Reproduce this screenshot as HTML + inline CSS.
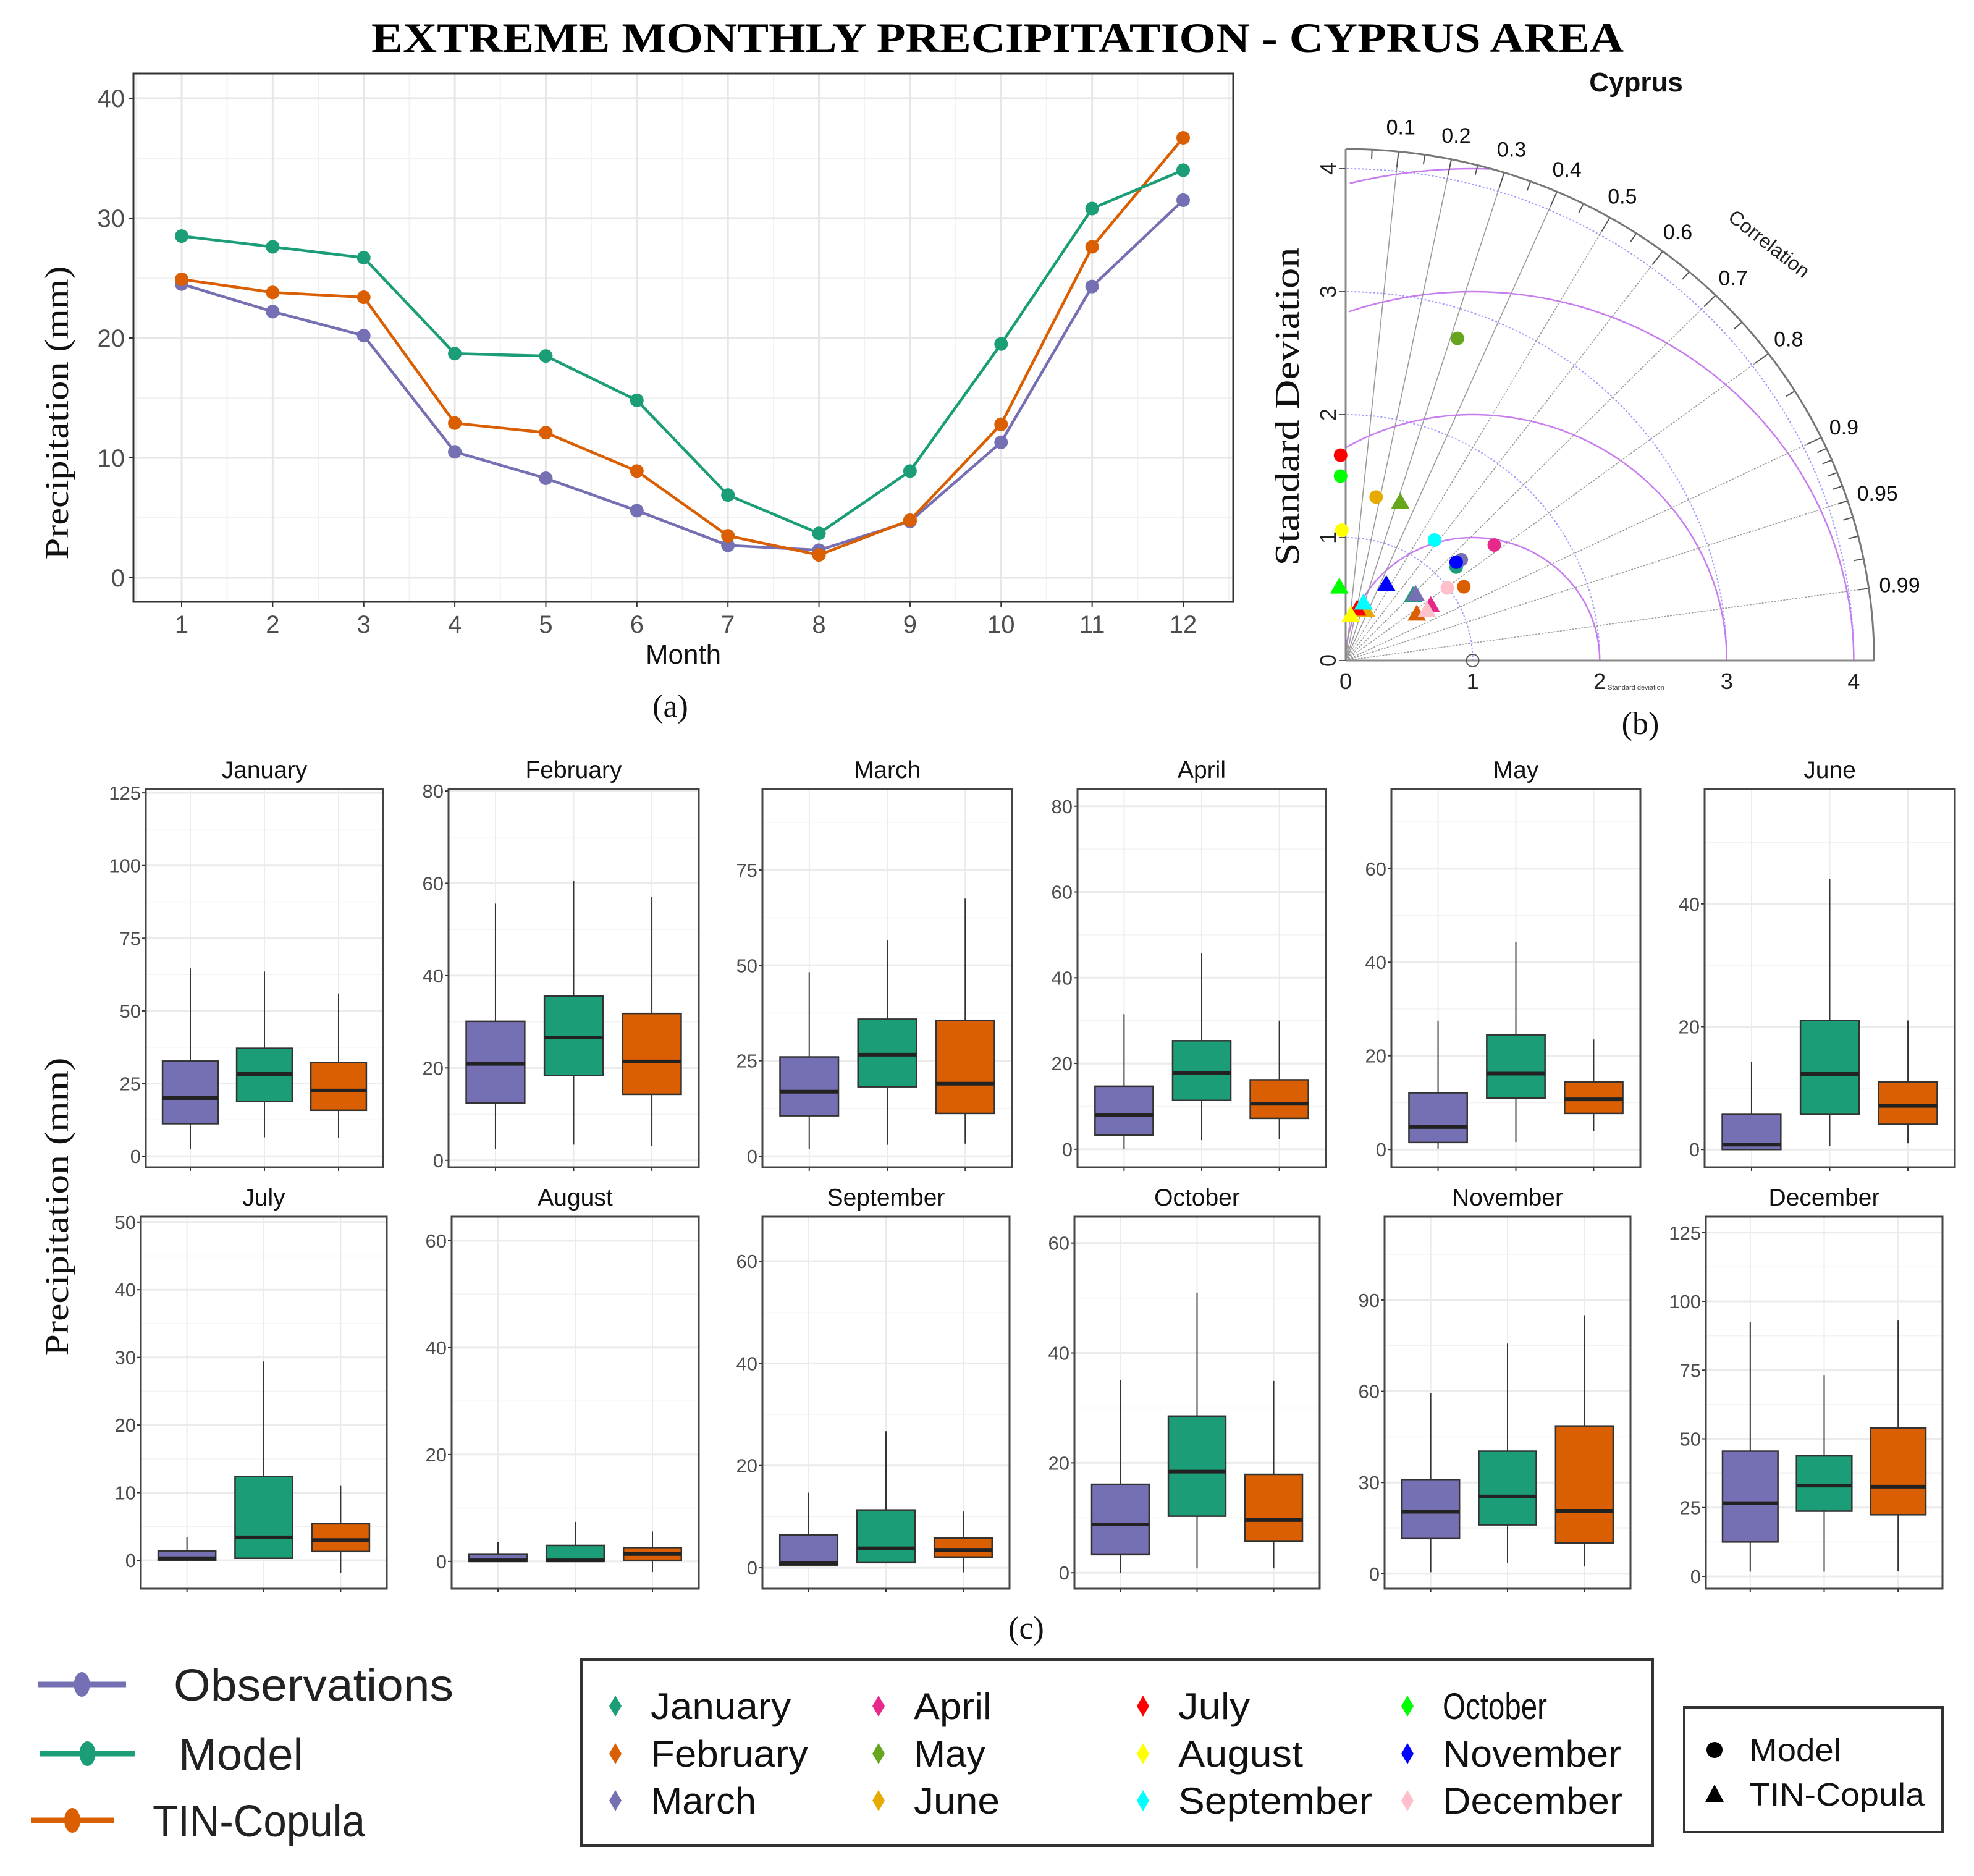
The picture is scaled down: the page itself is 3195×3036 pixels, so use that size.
<!DOCTYPE html>
<html><head><meta charset="utf-8"><title>Extreme Monthly Precipitation - Cyprus Area</title>
<style>
html,body{margin:0;padding:0;background:#fff;}
svg{display:block;}
text{font-family:"Liberation Sans",sans-serif;}
.serif{font-family:"Liberation Serif",serif;}
</style></head>
<body>
<svg id="fig" xmlns="http://www.w3.org/2000/svg" width="3195" height="3036" viewBox="0 0 3195 3036">
<rect x="0" y="0" width="3195" height="3036" fill="#fff"/>
<text class="serif" x="601" y="84" font-size="68" font-weight="bold" textLength="2027" lengthAdjust="spacingAndGlyphs">EXTREME MONTHLY PRECIPITATION - CYPRUS AREA</text>
<g id="pa"></g>
<g id="pb"></g>
<g id="pc"></g>
<g id="leg"></g>
</svg>
<script>
// ---------- Panel (a) data ----------
const months = [1,2,3,4,5,6,7,8,9,10,11,12];
const obsLine = [24.5,22.2,20.2,10.5,8.3,5.6,2.7,2.3,4.7,11.3,24.3,31.5];
const modelLine = [28.5,27.6,26.7,18.7,18.5,14.8,6.9,3.7,8.9,19.5,30.8,34.0];
const tinLine = [24.9,23.8,23.4,12.9,12.1,8.9,3.5,1.9,4.8,12.8,27.6,36.7];
const aYTicks = [0,10,20,30,40];

// ---------- Panel (b) Taylor data: [x-sd, y-sd] ----------
const monthNames = ["January","February","March","April","May","June","July","August","September","October","November","December"];
const monthColors = ["#1B9E77","#D95F02","#7570B3","#E7298A","#66A61E","#E6AB02","#FF0000","#FFFF00","#00FFFF","#00FF00","#0000FF","#FFC0CB"];
const taylorModel = [[0.87,0.76],[0.93,0.60],[0.91,0.82],[1.17,0.94],[0.88,2.62],[0.24,1.33],[-0.04,1.67],[-0.03,1.06],[0.70,0.98],[-0.04,1.50],[0.87,0.80],[0.80,0.59]];
const taylorTin = [[0.53,0.53],[0.56,0.38],[0.55,0.54],[0.67,0.45],[0.43,1.29],[0.16,0.41],[0.09,0.42],[0.04,0.37],[0.14,0.47],[-0.05,0.60],[0.32,0.62],[0.64,0.41]];
const corrLabels = [0.1,0.2,0.3,0.4,0.5,0.6,0.7,0.8,0.9,0.95,0.99];
const sdTicks = [0,1,2,3,4];

// ---------- Panel (c) box data: [lowWhisker, q1, median, q3, highWhisker] ----------
const boxObs = [[2.4,11.2,20,32.7,64.6],[2.5,12.4,20.9,30.1,55.6],[1.9,10.6,16.9,26,48.2],[0.1,3.3,7.9,14.7,31.5],[0.2,1.5,4.8,12.1,27.5],[0,0,0.8,5.7,14.3],[0,0,0.3,1.4,3.4],[0,0,0.2,1.3,3.6],[0.4,0.4,0.9,6.4,14.7],[0,3.3,8.8,16.1,35.1],[0.5,11.6,20.4,31,59.5],[1.7,12.5,26.6,45.5,92.6]];
const boxModel = [[6.5,18.8,28.3,37.1,63.5],[3.4,18.4,26.6,35.6,60.5],[3,18.2,26.6,35.9,56.5],[2.1,11.4,17.7,25.3,45.8],[1.6,11,16.2,24.5,44.4],[0.6,5.7,12.3,21,44],[0.3,0.3,3.4,12.4,29.4],[0,0,0.2,3,7.4],[1,1,3.8,11.3,26.7],[0.8,10.3,18.4,28.5,51],[3.5,16.1,25.4,40.3,75.7],[1.7,23.7,33,43.8,73]];
const boxTin = [[6.2,15.8,22.6,32.2,56],[3.1,14.3,21.4,31.8,57.1],[3.3,11.2,19,35.6,67.5],[2.4,7.2,10.6,16.2,30],[3.9,7.7,10.7,14.4,23.5],[1,4.1,7.1,11,21],[-1.9,1.3,3,5.4,11],[-2,0.2,1.4,2.6,5.6],[-0.9,2.1,3.5,5.8,11],[0.8,5.7,9.6,17.9,34.9],[2.4,10.1,20.7,48.6,85],[2,22.4,32.6,53.9,93]];
const boxTicks = [[0,25,50,75,100,125],[0,20,40,60,80],[0,25,50,75],[0,20,40,60,80],[0,20,40,60],[0,20,40],[0,10,20,30,40,50],[0,20,40,60],[0,20,40,60],[0,20,40,60],[0,30,60,90],[0,25,50,75,100,125]];
const boxYMin = [-3.8,-1.5,-2.9,-4.2,-3.8,-2.9,-4.2,-5.1,-4.1,-2.9,-4.9,-4.5];
const boxYMax = [126.3,80.4,96.2,84.0,77.0,58.7,50.8,64.5,68.7,64.8,117.4,130.8];

const NS = "http://www.w3.org/2000/svg";
function mk(tag, attrs, parent, txt){
  const e = document.createElementNS(NS, tag);
  for (const k in attrs) e.setAttribute(k, attrs[k]);
  if (txt !== undefined) e.textContent = txt;
  parent.appendChild(e);
  return e;
}
const COL = {obs:"#7570B3", model:"#1B9E77", tin:"#D95F02"};

// ================= Panel (a) =================
(function(){
  const g = document.getElementById('pa');
  const L=216,R=1996,T=119,B=974;
  const xS = m => 294 + (m-1)*(1915-294)/11;
  const yS = v => 935 - v*19.4;
  let r = mk('rect',{x:L,y:T,width:R-L,height:B-T,fill:'#fff'},g);
  
  
  for (let v=5; v<42; v+=10){ let l=mk('line',{x1:L,x2:R,y1:yS(v),y2:yS(v),stroke:'#f2f2f2','stroke-width':2},g);
    
     }
  for (let m=0.5; m<=12.5; m+=1){ let l=mk('line',{x1:xS(m),x2:xS(m),y1:T,y2:B,stroke:'#f2f2f2','stroke-width':2},g);
    
     }
  aYTicks.forEach(v=>{ let l=mk('line',{x1:L,x2:R,y1:yS(v),y2:yS(v),stroke:'#e6e6e6','stroke-width':3},g);
    
    
    let tk=mk('line',{x1:L-8,x2:L,y1:yS(v),y2:yS(v),stroke:'#333','stroke-width':2},g);
    
    
    let t=mk('text',{x:L-14,y:yS(v)+14,'text-anchor':'end','font-size':40,fill:'#4d4d4d'},g,String(v));
    
     });
  months.forEach(m=>{ let l=mk('line',{x1:xS(m),x2:xS(m),y1:T,y2:B,stroke:'#e6e6e6','stroke-width':3},g);
    
    
    let tk=mk('line',{x1:xS(m),x2:xS(m),y1:B,y2:B+8,stroke:'#333','stroke-width':2},g);
    
    
    let t=mk('text',{x:xS(m),y:B+50,'text-anchor':'middle','font-size':40,fill:'#4d4d4d'},g,String(m));
    
     });
  let bd = mk('rect',{x:L,y:T,width:R-L,height:B-T,fill:'none',stroke:'#333','stroke-width':3},g);
  
  
  [[obsLine,COL.obs,'observations'],[tinLine,COL.tin,'tin-copula'],[modelLine,COL.model,'model']].forEach(([arr,c,nm])=>{
    const pts = arr.map((v,i)=>xS(months[i])+','+yS(v)).join(' ');
    let pl = mk('polyline',{points:pts,fill:'none',stroke:c,'stroke-width':4.5},g);
    
    
    arr.forEach((v,i)=>{ let p=mk('circle',{cx:xS(months[i]),cy:yS(v),r:11,fill:c},g);
      
       });
  });
  let xt = mk('text',{x:1106,y:1074,'text-anchor':'middle','font-size':44,fill:'#111'},g,'Month');
  
  
  let yt = mk('text',{x:0,y:0,'text-anchor':'middle','font-size':54,fill:'#111','class':'serif',transform:'translate(110,668) rotate(-90)',textLength:475,lengthAdjust:'spacingAndGlyphs'},g,'Precipitation (mm)');
  
  
  let lb = mk('text',{x:1085,y:1160,'text-anchor':'middle','font-size':52,fill:'#111','class':'serif'},g,'(a)');
  
  
})();

// ================= Panel (b) Taylor =================
(function(){
  const g = document.getElementById('pb');
  const ox=2178, oy=1069, kx=205.6, ky=199;
  const X = v => ox + v*kx, Y = v => oy - v*ky;
  const RMAX = 4.16;
  function arcPts(cx,cy,rad,a0,a1,clip){
    const pts=[];
    for(let i=0;i<=180;i++){ const a=a0+(a1-a0)*i/180; const x=cx+rad*Math.cos(a), y=cy+rad*Math.sin(a);
      if(clip && (x<0 || y<-0.001 || Math.hypot(x,y)>RMAX)) continue;
      pts.push(X(x)+','+Y(y)); }
    return pts.join(' ');
  }
  [1,2,3,4].forEach(s=>{ let p=mk('polyline',{points:arcPts(0,0,s,0,Math.PI/2,false),fill:'none',stroke:'#9b9bff','stroke-width':2,'stroke-dasharray':'3 3'},g);
    
     });
  [1,2,3,4].forEach(s=>{ let p=mk('polyline',{points:arcPts(1,0,s,0,Math.PI,true),fill:'none',stroke:'#c77cf0','stroke-width':2.5},g);
    
     });
  corrLabels.forEach(c=>{ const a=Math.acos(c);
    let l=mk('line',{x1:X(0),y1:Y(0),x2:X(RMAX*Math.cos(a)),y2:Y(RMAX*Math.sin(a)),stroke:'#9a9a9a','stroke-width':1.6,'stroke-dasharray':c>=0.5?'3 2':'none'},g);
    
    
    let t=mk('text',{x:X(4.36*Math.cos(a))-24,y:Y(4.36*Math.sin(a))+12,'text-anchor':'start','font-size':34,fill:'#111'},g,String(c));
    
     });
  const tickVals=[];
  for(let i=1;i<=18;i++) tickVals.push(i*0.05);
  for(let i=91;i<=99;i++) tickVals.push(i/100);
  tickVals.forEach(c=>{ const a=Math.acos(c); const len=(Math.round(c*100)%10===0)?0.13:0.08;
    let l=mk('line',{x1:X(RMAX*Math.cos(a)),y1:Y(RMAX*Math.sin(a)),x2:X((RMAX-len)*Math.cos(a)),y2:Y((RMAX-len)*Math.sin(a)),stroke:'#555','stroke-width':2},g);
    
     });
  let oa=mk('polyline',{points:arcPts(0,0,RMAX,0,Math.PI/2,false),fill:'none',stroke:'#777','stroke-width':3},g);
  
  
  let ax1=mk('line',{x1:X(0),y1:Y(0),x2:X(RMAX),y2:Y(0),stroke:'#888','stroke-width':3},g);
  
  
  let ax2=mk('line',{x1:X(0),y1:Y(0),x2:X(0),y2:Y(RMAX),stroke:'#888','stroke-width':3},g);
  
  
  sdTicks.forEach(s=>{
    let t=mk('text',{x:X(s),y:oy+46,'text-anchor':'middle','font-size':36,fill:'#222'},g,String(s));
    
    
    let t2=mk('text',{x:0,y:0,'text-anchor':'middle','font-size':36,fill:'#222',transform:'translate('+(ox-16)+','+Y(s)+') rotate(-90)'},g,String(s));
    
    
    let tk=mk('line',{x1:ox-10,x2:ox,y1:Y(s),y2:Y(s),stroke:'#555','stroke-width':2},g);
    
    
  });
  let ref=mk('circle',{cx:X(1),cy:Y(0),r:10,fill:'none',stroke:'#555','stroke-width':2},g);
  
  
  taylorTin.forEach((p,i)=>{ const x=X(p[0]), y=Y(p[1]);
    let tr=mk('polygon',{points:(x)+','+(y-15)+' '+(x-15)+','+(y+11)+' '+(x+15)+','+(y+11),fill:monthColors[i]},g);
    
     });
  taylorModel.forEach((p,i)=>{
    let c=mk('circle',{cx:X(p[0]),cy:Y(p[1]),r:11,fill:monthColors[i]},g);
    
     });
  let ct=mk('text',{x:0,y:0,'font-size':32,fill:'#222',transform:'translate(2795,355) rotate(38)'},g,'Correlation');
  
  
  let tt=mk('text',{x:2648,y:148,'text-anchor':'middle','font-size':44,'font-weight':'bold',fill:'#111'},g,'Cyprus');
  
  
  let yt=mk('text',{x:0,y:0,'text-anchor':'middle','font-size':56,fill:'#111','class':'serif',transform:'translate(2102,658) rotate(-90)',textLength:515,lengthAdjust:'spacingAndGlyphs'},g,'Standard Deviation');
  
  
  let sx=mk('text',{x:2648,y:1116,'text-anchor':'middle','font-size':11,fill:'#444'},g,'Standard deviation');
  
  
  let lb=mk('text',{x:2655,y:1188,'text-anchor':'middle','font-size':52,fill:'#111','class':'serif'},g,'(b)');
  
  
})();

// ================= Panel (c) boxplots =================
(function(){
  const g = document.getElementById('pc');
  const lefts=[236,726,1234,1744,2252,2759,228,731,1234,1739,2241,2761];
  const rights=[620,1131,1638,2146,2655,3164,626,1131,1634,2136,2639,3144];
  for(let i=0;i<12;i++){
    const L=lefts[i], R=rights[i], W=R-L;
    const T = i<6?1277:1969, B = i<6?1889:2571;
    const yS = v => B - (v-boxYMin[i])*(B-T)/(boxYMax[i]-boxYMin[i]);
    const pg = mk('g',{},g);
    
    
    const ticks=boxTicks[i], step=ticks[1]-ticks[0];
    for(let v=ticks[0]+step/2; v<boxYMax[i]; v+=step){ let l=mk('line',{x1:L,x2:R,y1:yS(v),y2:yS(v),stroke:'#f3f3f3','stroke-width':1.5},pg);
      
       }
    ticks.forEach(v=>{ let l=mk('line',{x1:L,x2:R,y1:yS(v),y2:yS(v),stroke:'#ebebeb','stroke-width':3},pg);
      
      
      let tk=mk('line',{x1:L-6,x2:L,y1:yS(v),y2:yS(v),stroke:'#333','stroke-width':2},pg);
      
      
      let t=mk('text',{x:L-8,y:yS(v)+11,'text-anchor':'end','font-size':31,fill:'#4d4d4d'},pg,String(v));
      
       });
    const cx=[0.1875,0.5,0.8125].map(f=>L+f*W), bw=0.234*W;
    cx.forEach(x=>{ let l=mk('line',{x1:x,x2:x,y1:T,y2:B,stroke:'#ebebeb','stroke-width':2},pg);
      
      
      let tk=mk('line',{x1:x,x2:x,y1:B,y2:B+6,stroke:'#333','stroke-width':2},pg);
      
       });
    [[boxObs,COL.obs,'observations'],[boxModel,COL.model,'model'],[boxTin,COL.tin,'tin-copula']].forEach(([arr,c,nm],k)=>{
      const d=arr[i], x=cx[k];
      let wl=mk('line',{x1:x,x2:x,y1:yS(d[0]),y2:yS(d[4]),stroke:'#333','stroke-width':2},pg);
      
      
      let bx=mk('rect',{x:x-bw/2,y:yS(d[3]),width:bw,height:Math.max(2,yS(d[1])-yS(d[3])),fill:c,stroke:'#333','stroke-width':2.5},pg);
      
      
      let md=mk('line',{x1:x-bw/2,x2:x+bw/2,y1:yS(d[2]),y2:yS(d[2]),stroke:'#222','stroke-width':6},pg);
      
      
    });
    let bd=mk('rect',{x:L,y:T,width:W,height:B-T,fill:'none',stroke:'#444','stroke-width':3},pg);
    
    
    let tl=mk('text',{x:(L+R)/2,y:T-18,'text-anchor':'middle','font-size':39,fill:'#111'},pg,monthNames[i]);
    
    
  }
  let yt=mk('text',{x:0,y:0,'text-anchor':'middle','font-size':54,fill:'#111','class':'serif',transform:'translate(110,1953) rotate(-90)',textLength:483,lengthAdjust:'spacingAndGlyphs'},g,'Precipitation (mm)');
  
  
  let lb=mk('text',{x:1661,y:2652,'text-anchor':'middle','font-size':52,fill:'#111','class':'serif'},g,'(c)');
  
  
})();

// ================= Legends =================
const legSeries = ["Observations","Model","TIN-Copula"];
const legMonthWidths = [227,255,171,126,116,139,116,202,314,169,289,291];
(function(){
  const g = document.getElementById('leg');
  const rows=[[61,204,2726,281,453,COL.obs],[65,218,2838,289,202,COL.model],[50,184,2946,247,344,COL.tin]];
  rows.forEach((r,i)=>{
    let l=mk('line',{x1:r[0],x2:r[1],y1:r[2],y2:r[2],stroke:r[5],'stroke-width':9},g);
    
    
    let c=mk('ellipse',{cx:(r[0]+r[1])/2,cy:r[2],rx:13,ry:20,fill:r[5]},g);
    
    
    let t=mk('text',{x:r[3],y:r[2]+26,'font-size':72,fill:'#222',textLength:r[4],lengthAdjust:'spacingAndGlyphs'},g,legSeries[i]);
    
    
  });
  let box=mk('rect',{x:941,y:2686,width:1734,height:301,fill:'none',stroke:'#333','stroke-width':4},g);
  
  
  const dx=[996,1422,1850,2278], tx=[1053,1479,1907,2335], ry=[2761,2838,2914];
  monthNames.forEach((m,i)=>{
    const col=Math.floor(i/3), row=i%3;
    const x=dx[col], y=ry[row];
    let d=mk('polygon',{points:x+','+(y-17)+' '+(x+10)+','+y+' '+x+','+(y+17)+' '+(x-10)+','+y,fill:monthColors[i]},g);
    
    
    let t=mk('text',{x:tx[col],y:y+21,'font-size':60,fill:'#111',textLength:legMonthWidths[i],lengthAdjust:'spacingAndGlyphs'},g,m);
    
    
  });
  let box2=mk('rect',{x:2726,y:2763,width:418,height:202,fill:'none',stroke:'#333','stroke-width':4},g);
  
  
  let c=mk('circle',{cx:2775,cy:2832,r:13,fill:'#000'},g);
  
  
  let t1=mk('text',{x:2831,y:2850,'font-size':52,fill:'#111',textLength:149,lengthAdjust:'spacingAndGlyphs'},g,'Model');
  
  
  let tr=mk('polygon',{points:'2775,2888 2760,2916 2790,2916',fill:'#000'},g);
  
  
  let t2=mk('text',{x:2831,y:2922,'font-size':52,fill:'#111',textLength:284,lengthAdjust:'spacingAndGlyphs'},g,'TIN-Copula');
  
  
})();
</script>
</body></html>
